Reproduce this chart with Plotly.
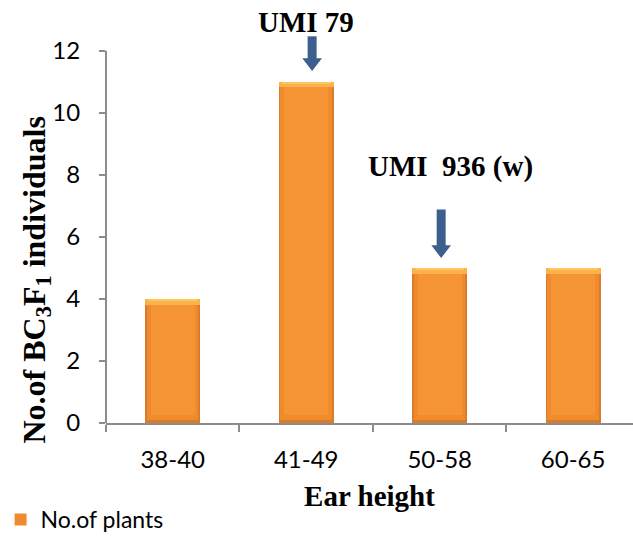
import plotly.graph_objects as go

# Ear-height classes and counts of BC3F1 plants in each class
categories = ["38-40", "41-49", "50-58", "60-65"]
plants = [4, 11, 5, 5]
y_ticks = [0, 2, 4, 6, 8, 10, 12]

# Parent lines marked above their classes
marked_classes = ["41-49", "50-58"]
marked_labels = ["UMI 79", "UMI\u00a0 936 (w)"]

W, H = 633, 541
PX_PER_UNIT = 376 / 12          # vertical scale of the value axis
CAT_PX = 135.5                  # width of one category slot
L, R, T, B = 98, 0, 32, 114
plot_w, plot_h = W - L - R, H - T - B
y_top = plot_h / PX_PER_UNIT    # a little headroom above the 12 tick
x_range = [-0.5, -0.5 + plot_w / CAT_PX]

BAR_W = 0.41
TOP_BAND = 0.18     # light bevel along the top of each bar
BOTTOM_BAND = 0.10  # darker strip along the bottom
n = len(plants)

fig = go.Figure()

# Bar shell (darker edges and bottom)
fig.add_trace(go.Bar(
    x=categories, y=plants, width=BAR_W,
    marker=dict(color="#D97B2B", line=dict(width=0)),
    showlegend=False, hoverinfo="skip",
))
# Main orange body
fig.add_trace(go.Bar(
    x=categories,
    y=[v - TOP_BAND - BOTTOM_BAND for v in plants],
    base=[BOTTOM_BAND] * n, width=BAR_W * 0.94,
    name="No.of plants",
    marker=dict(color="#EF8B2C", line=dict(width=0)),
))
# Lighter centre of the body
fig.add_trace(go.Bar(
    x=categories,
    y=[v - TOP_BAND - BOTTOM_BAND - 0.15 for v in plants],
    base=[BOTTOM_BAND + 0.15] * n, width=BAR_W * 0.8,
    marker=dict(color="#F59434", line=dict(width=0)),
    showlegend=False, hoverinfo="skip",
))
# Top bevel
fig.add_trace(go.Bar(
    x=categories, y=[TOP_BAND] * n,
    base=[v - TOP_BAND for v in plants], width=BAR_W,
    marker=dict(color="#FCB24A", line=dict(width=0)),
    showlegend=False, hoverinfo="skip",
))
fig.add_trace(go.Bar(
    x=categories, y=[TOP_BAND * 0.45] * n,
    base=[v - TOP_BAND * 0.45 for v in plants], width=BAR_W * 0.9,
    marker=dict(color="#FFC660", line=dict(width=0)),
    showlegend=False, hoverinfo="skip",
))

# Down arrows above the marked classes (drawn on a hidden linear axis
# that mirrors the category axis so they can sit slightly off-centre)
arrow_gap = [0.35, 0.32]        # clearance between tip and bar top
arrow_len = [35 / PX_PER_UNIT, 49 / PX_PER_UNIT]
arrow_dx = [6 / CAT_PX, 1.5 / CAT_PX]
HEAD = 17                       # triangle marker size, px
for k, cat in enumerate(marked_classes):
    i = categories.index(cat)
    v = plants[i]
    tip = v + arrow_gap[k]
    head_centre = tip + (HEAD / 2) / PX_PER_UNIT
    xi = i + arrow_dx[k]
    fig.add_trace(go.Scatter(
        x=[xi, xi], y=[tip + arrow_len[k], head_centre],
        xaxis="x2", mode="lines",
        line=dict(color="#3C5F8E", width=9),
        showlegend=False, hoverinfo="skip",
    ))
    fig.add_trace(go.Scatter(
        x=[xi], y=[head_centre], xaxis="x2", mode="markers",
        marker=dict(symbol="triangle-down", size=HEAD, color="#3C5F8E",
                    line=dict(width=0)),
        showlegend=False, hoverinfo="skip", cliponaxis=False,
    ))

annotations = []
label_dx = [0, 11]
label_dy = [60, 101]
for k, cat in enumerate(marked_classes):
    annotations.append(dict(
        x=cat, y=plants[categories.index(cat)], xref="x", yref="y",
        text=f"<b>{marked_labels[k]}</b>", showarrow=False,
        xshift=label_dx[k], yshift=label_dy[k],
        font=dict(family="Liberation Serif", size=29, color="#000000"),
    ))

# Value-axis title, centred on the 0-12 span rather than the whole domain
annotations.append(dict(
    x=(27 - L) / plot_w, y=(T + plot_h - 283) / plot_h,
    xref="paper", yref="paper",
    text="<b>No.of BC<sub>3</sub>F<sub>1</sub> individuals</b>",
    showarrow=False, textangle=-90,
    font=dict(family="Liberation Serif", size=32, color="#000000"),
    xanchor="center", yanchor="middle",
))

# Value axis line, running from 0 up to the top tick
shapes = [dict(
    type="line", xref="paper", yref="y", x0=0, x1=0,
    y0=min(y_ticks), y1=max(y_ticks),
    line=dict(color="#8C8C8C", width=2),
)]

fig.update_layout(
    width=W, height=H,
    margin=dict(l=L, r=R, t=T, b=B, pad=0),
    paper_bgcolor="white", plot_bgcolor="white",
    barmode="overlay", bargap=0,
    font=dict(family="Lato", size=24, color="#000000"),
    annotations=annotations, shapes=shapes,
    legend=dict(
        x=-(L + 9) / plot_w, y=(T + plot_h - 525) / plot_h,
        xanchor="left", yanchor="middle", orientation="h",
        font=dict(family="Lato", size=23, color="#000000"),
        itemwidth=30, bgcolor="rgba(0,0,0,0)",
    ),
    xaxis=dict(
        type="category", range=x_range,
        showline=True, linecolor="#8C8C8C", linewidth=2,
        ticks="outside", tickson="boundaries", ticklen=7, tickwidth=2,
        tickcolor="#8C8C8C", ticklabelstandoff=14,
        showgrid=False, zeroline=False,
        title=dict(text="<b>Ear height</b>", standoff=14,
                   font=dict(family="Liberation Serif", size=29,
                             color="#000000")),
    ),
    xaxis2=dict(
        overlaying="x", range=x_range, visible=False, showgrid=False,
        zeroline=False,
    ),
    yaxis=dict(
        range=[0, y_top], tickvals=y_ticks,
        showline=False,
        ticks="outside", ticklen=6, tickwidth=2, tickcolor="#8C8C8C",
        ticklabelstandoff=14,
        showgrid=False, zeroline=False,
    ),
)

fig.write_html("out.html")
